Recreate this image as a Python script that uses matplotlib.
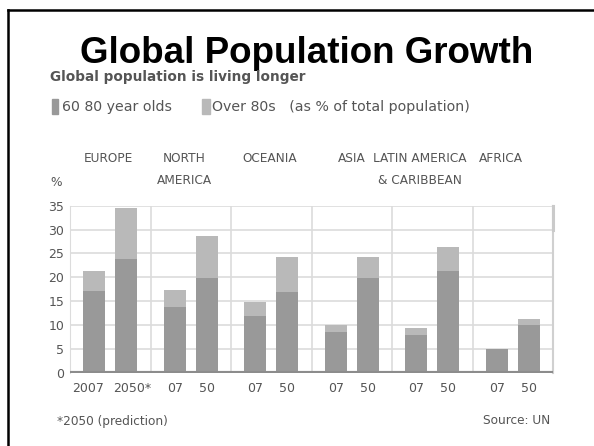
import matplotlib
matplotlib.use('Agg')
import matplotlib.pyplot as plt
from matplotlib.lines import Line2D
import numpy as np

regions = ['EUROPE', 'NORTH', 'OCEANIA', 'ASIA', 'LATIN AMERICA', 'AFRICA']
regions_2 = ['', 'AMERICA', '', '', '& CARIBBEAN', '']
years = ['2007', '2050*', '07', '50', '07', '50', '07', '50', '07', '50', '07', '50']
# 60-80 year olds, % of total population (2007, 2050 per region)
age_60_80 = [17.2, 23.9, 13.7, 19.8, 11.8, 16.9, 8.6, 19.8, 7.8, 21.2, 5.0, 9.9]
# over 80s
over_80 = [4.0, 10.6, 3.7, 8.8, 2.9, 7.3, 1.3, 4.4, 1.5, 5.1, 0.0, 1.3]

W, H = 594, 446
fig = plt.figure(figsize=(W / 100, H / 100), dpi=100)

def fx(x):
    return x / W

def fy(y):
    return 1 - y / H

grey = '#555555'
dark = '#999999'
light = '#b9b9b9'
gridc = '#dcdcdc'

ax = fig.add_axes([fx(70), fy(372.5), (553 - 70) / W, (372.5 - 205.7) / H])

n = len(regions)
pos = []
for i in range(n):
    pos += [i + 0.5 - 0.2, i + 0.5 + 0.2]
pos = np.array(pos)

ax.bar(pos, age_60_80, width=0.27, color=dark, zorder=3)
ax.bar(pos, over_80, width=0.27, bottom=age_60_80, color=light, zorder=3)

ax.set_xlim(0, n)
ax.set_ylim(0, 35)
ax.set_yticks(range(0, 36, 5))
ax.yaxis.grid(True, color=gridc, lw=1.2, zorder=0)
for i in range(1, n):
    ax.axvline(i, color=gridc, lw=1.2, zorder=1)
ax.axhline(0, color='#8c8c8c', lw=3, zorder=4)
ax.plot([n, n], [30, 35], color='#cacaca', lw=2.2, clip_on=False, zorder=5)

# first two labels sit a little apart from their bars
tick_pos = pos.copy()
tick_pos[0] -= 0.08
tick_pos[1] += 0.07
ax.set_xticks(tick_pos)
ax.set_xticklabels(years)
ax.tick_params(length=0, labelsize=9, labelcolor=grey, pad=7)
ax.tick_params(axis='y', pad=4)
for s in ['top', 'bottom']:
    ax.spines[s].set_visible(False)
ax.spines['left'].set_color(gridc)
ax.spines['right'].set_color('#d0d0d0')
ax.spines['right'].set_linewidth(1.5)

# frame of the slide
fig.add_artist(Line2D([fx(8), fx(W)], [fy(10), fy(10)], color='black', lw=1.8))
fig.add_artist(Line2D([fx(8), fx(8)], [fy(10), fy(H)], color='black', lw=1.8))

fig.text(fx(307), fy(63), 'Global Population Growth', ha='center', va='baseline',
         fontsize=26.5, fontweight='bold', family='Liberation Sans')
fig.text(fx(50), fy(81), 'Global population is living longer', ha='left', va='baseline',
         fontsize=9.8, fontweight='bold', color=grey)

# legend
fig.patches.append(plt.Rectangle((fx(52), fy(114)), 6 / W, 15 / H, color=dark,
                                 transform=fig.transFigure, figure=fig))
fig.text(fx(62), fy(107), '60 80 year olds', ha='left', va='center', fontsize=10.2, color=grey)
fig.patches.append(plt.Rectangle((fx(202), fy(114)), 8 / W, 15 / H, color=light,
                                 transform=fig.transFigure, figure=fig))
fig.text(fx(212), fy(107), 'Over 80s   (as % of total population)', ha='left', va='center',
         fontsize=10.2, color=grey)

# region headers
label_x = [108, 184, 270, 352, 420, 501]
for name, name2, x in zip(regions, regions_2, label_x):
    fig.text(fx(x), fy(158), name, ha='center', va='center', fontsize=8.7, color=grey)
    if name2:
        fig.text(fx(x), fy(180), name2, ha='center', va='center', fontsize=8.7, color=grey)
fig.text(fx(50), fy(182), '%', ha='left', va='center', fontsize=8.7, color=grey)

fig.text(fx(57), fy(421), '*2050 (prediction)', ha='left', va='center', fontsize=8.7, color=grey)
fig.text(fx(550), fy(421), 'Source: UN', ha='right', va='center', fontsize=8.7, color=grey)

fig.savefig('out.png', dpi=100)
